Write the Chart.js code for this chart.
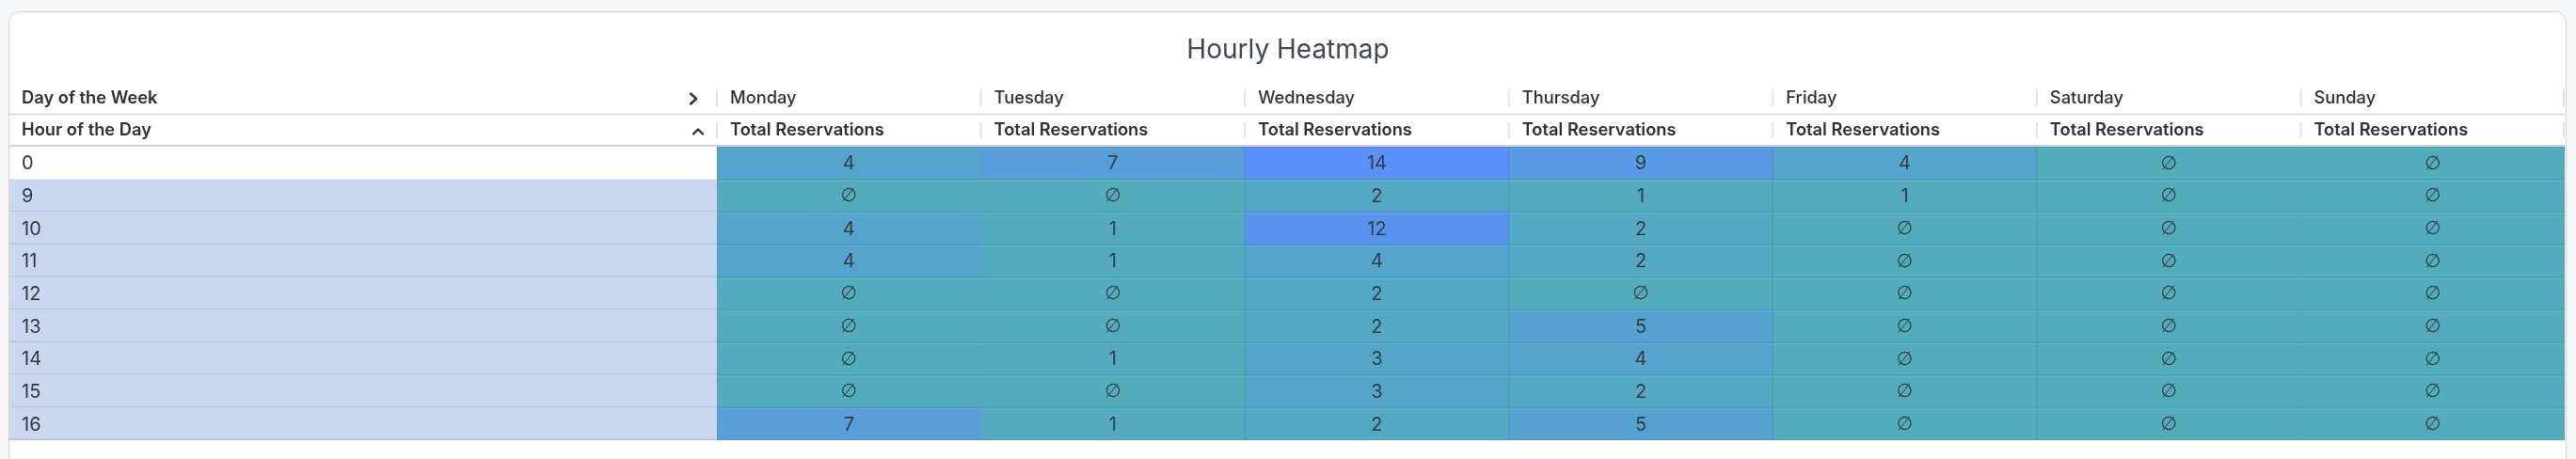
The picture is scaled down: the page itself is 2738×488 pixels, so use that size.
<!DOCTYPE html>
<html>
<head>
<meta charset="utf-8">
<title>Hourly Heatmap</title>
<script src="https://cdn.jsdelivr.net/npm/chart.js@4.4.1/dist/chart.umd.min.js"></script>
<style>
  html, body { margin: 0; padding: 0; background: #f6f7f9; overflow: hidden; }
  body { width: 2738px; height: 488px; position: relative; }
  .card {
    position: absolute; left: 9px; top: 12px; width: 2719px; height: 540px;
    background: #fff; border: 1px solid #d3d5d8; border-radius: 12px; box-sizing: border-box;
  }
  #heatmap { position: absolute; left: 0; top: 0; }
</style>
</head>
<body>
<div class="card"></div>
<canvas id="heatmap" width="2738" height="488"></canvas>
<script>
const chartTitle = 'Hourly Heatmap';
const columnDimension = 'Day of the Week';
const rowDimension = 'Hour of the Day';
const metricLabel = 'Total Reservations';

const days = ['Monday', 'Tuesday', 'Wednesday', 'Thursday', 'Friday', 'Saturday', 'Sunday'];
const hours = ['0', '9', '10', '11', '12', '13', '14', '15', '16'];

// reservations per hour (same order as hours), null = no data
const monday = [4, null, 4, 4, null, null, null, null, 7];
const tuesday = [7, null, 1, 1, null, null, 1, null, 1];
const wednesday = [14, 2, 12, 4, 2, 2, 3, 3, 2];
const thursday = [9, 1, 2, 2, null, 5, 4, 2, 5];
const friday = [4, 1, null, null, null, null, null, null, null];
const saturday = [null, null, null, null, null, null, null, null, null];
const sunday = [null, null, null, null, null, null, null, null, null];

const series = [monday, tuesday, wednesday, thursday, friday, saturday, sunday];

const LOW = [82, 172, 187];
const HIGH = [91, 143, 249];
const maxCount = Math.max(...series.flat().filter((v) => v !== null));
const FONT = 'Inter, "Noto Sans", sans-serif';

function cellColor(count, shade = 1) {
  const t = (count || 0) / maxCount;
  const c = LOW.map((lo, i) => Math.round((lo + (HIGH[i] - lo) * t) * shade));
  return `rgb(${c[0]}, ${c[1]}, ${c[2]})`;
}

const TABLE_LEFT = 10;
const HEADER_ROW1 = 105;
const HEADER_ROW2 = 139;

const pivotTable = {
  id: 'pivotTable',
  beforeDatasetsDraw(chart) {
    const { ctx, chartArea } = chart;
    const yScale = chart.scales.y;
    const xScale = chart.scales.x;
    const rowH = yScale.getPixelForValue(1) - yScale.getPixelForValue(0);
    ctx.save();

    // title
    ctx.fillStyle = '#42474d';
    ctx.font = `400 28px ${FONT}`;
    ctx.textAlign = 'center';
    ctx.textBaseline = 'middle';
    ctx.fillText(chartTitle, (TABLE_LEFT + chartArea.right) / 2 + 1, 54);

    // header text
    ctx.textAlign = 'left';
    ctx.fillStyle = '#2b3035';
    ctx.font = `600 18.3px ${FONT}`;
    ctx.fillText(columnDimension, 23, HEADER_ROW1);
    ctx.fillText(rowDimension, 23, HEADER_ROW2);
    days.forEach((day, d) => {
      const left = xScale.getPixelForValue(d);
      ctx.font = `500 18.3px ${FONT}`;
      ctx.fillText(day, left + 14, HEADER_ROW1);
      ctx.font = `600 18.3px ${FONT}`;
      ctx.fillText(metricLabel, left + 14, HEADER_ROW2);
    });

    // header separators
    ctx.strokeStyle = '#e1e3e6';
    ctx.lineWidth = 2;
    const seps = days.map((_, d) => xScale.getPixelForValue(d)).concat([chartArea.right - 1]);
    seps.forEach((x) => {
      ctx.beginPath();
      ctx.moveTo(x, HEADER_ROW1 - 10);
      ctx.lineTo(x, HEADER_ROW1 + 8);
      ctx.moveTo(x, HEADER_ROW2 - 9);
      ctx.lineTo(x, HEADER_ROW2 + 8);
      ctx.stroke();
    });

    ctx.strokeStyle = '#cfd2d6';
    ctx.lineWidth = 1.5;
    ctx.beginPath();
    ctx.moveTo(TABLE_LEFT, 121.5);
    ctx.lineTo(chartArea.right, 121.5);
    ctx.stroke();
    ctx.lineWidth = 2;
    ctx.beginPath();
    ctx.moveTo(TABLE_LEFT, chartArea.top - 1);
    ctx.lineTo(chartArea.right, chartArea.top - 1);
    ctx.stroke();

    // chevrons
    ctx.strokeStyle = '#2b3035';
    ctx.lineWidth = 2.4;
    ctx.lineCap = 'round';
    ctx.lineJoin = 'round';
    ctx.beginPath();
    ctx.moveTo(734, 99.5);
    ctx.lineTo(740, 105);
    ctx.lineTo(734, 110.5);
    ctx.stroke();
    ctx.beginPath();
    ctx.moveTo(737, 142.5);
    ctx.lineTo(742, 137.5);
    ctx.lineTo(747, 142.5);
    ctx.stroke();

    // row header column
    hours.forEach((hour, i) => {
      const cy = yScale.getPixelForValue(i);
      const top = cy - rowH / 2;
      if (i > 0) {
        ctx.fillStyle = '#c9d7f0';
        ctx.fillRect(TABLE_LEFT, top, chartArea.left - TABLE_LEFT, rowH);
        ctx.fillStyle = '#b9c6de';
        ctx.fillRect(TABLE_LEFT, top + rowH - 1.5, chartArea.left - TABLE_LEFT, 1.5);
      }
      ctx.fillStyle = '#33383d';
      ctx.font = `400 20px ${FONT}`;
      ctx.textBaseline = 'middle';
      ctx.fillText(hour, 23, cy + 1);
    });
    ctx.restore();
  },
  afterDatasetsDraw(chart) {
    const { ctx, chartArea } = chart;
    const yScale = chart.scales.y;
    const rowH = yScale.getPixelForValue(1) - yScale.getPixelForValue(0);
    ctx.save();
    // faint highlight along the top of each data row
    ctx.fillStyle = 'rgba(255, 255, 255, 0.10)';
    hours.forEach((_, i) => {
      if (i === 0) return;
      const top = yScale.getPixelForValue(i) - rowH / 2 + 1;
      ctx.fillRect(chartArea.left, top, chartArea.right - chartArea.left, 1);
    });
    ctx.fillStyle = '#363b40';
    ctx.textAlign = 'center';
    ctx.textBaseline = 'middle';
    chart.data.datasets.forEach((ds, d) => {
      chart.getDatasetMeta(d).data.forEach((bar, i) => {
        const count = ds.data[i].count;
        const cx = (bar.base + bar.x) / 2;
        if (count === null) {
          ctx.font = '400 20px "DejaVu Sans", sans-serif';
          ctx.fillText('\u2205', cx, bar.y + 1);
        } else {
          ctx.font = `400 20px ${FONT}`;
          ctx.fillText(String(count), cx, bar.y + 1);
        }
      });
    });
    ctx.restore();
  },
};

new Chart(document.getElementById('heatmap'), {
  type: 'bar',
  data: {
    labels: hours,
    datasets: days.map((day, d) => ({
      label: day,
      data: hours.map((hour, i) => ({ y: hour, x: [d, d + 1], count: series[d][i] })),
      backgroundColor: (context) => cellColor(context.raw ? context.raw.count : 0),
      borderColor: (context) => cellColor(context.raw ? context.raw.count : 0, 0.93),
      borderWidth: 1,
      borderSkipped: false,
      grouped: false,
      categoryPercentage: 1,
      barPercentage: 1,
    })),
  },
  options: {
    indexAxis: 'y',
    responsive: false,
    animation: false,
    layout: { padding: { left: 762, right: 12, top: 156, bottom: 20 } },
    plugins: {
      legend: { display: false },
      title: { display: false },
      tooltip: { enabled: false },
    },
    scales: {
      x: { type: 'linear', min: 0, max: days.length, display: false },
      y: { type: 'category', display: false, offset: true, grid: { display: false } },
    },
  },
  plugins: [pivotTable],
});
</script>
</body>
</html>
